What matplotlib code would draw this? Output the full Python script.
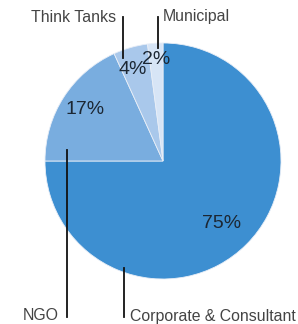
import matplotlib.pyplot as plt

# data (shares follow the wedge angles, labels as printed)
categories = ['Corporate & Consultant', 'NGO', 'Think Tanks', 'Municipal']
shares = [75, 18.2, 4.7, 2.1]
pct_labels = ['75%', '17%', '4%', '2%']
colors = ['#3d8fd1', '#79addf', '#a9c8eb', '#d7e5f6']

plt.rcParams['font.family'] = ['Liberation Sans', 'DejaVu Sans']

W, H = 298, 324
fig = plt.figure(figsize=(W / 100, H / 100), dpi=100)
ax = fig.add_axes([0, 0, 1, 1])

cx, cy, r = 163, H - 161, 118

wedges, _, autotexts = ax.pie(
    shares, colors=colors, startangle=90, counterclock=False,
    center=(cx, cy), radius=r, autopct='%1.0f%%', pctdistance=0.8,
    wedgeprops=dict(edgecolor='#e8eef7', linewidth=0.6), frame=True)
ax.set_xlim(0, W)
ax.set_ylim(0, H)
ax.set_aspect('equal')
ax.axis('off')

# percent label positions (pixels from top-left) as in the picture
pct_pos = [(222, 223), (85, 110), (133, 70), (156, 60)]
for t, lab, (px, py) in zip(autotexts, pct_labels, pct_pos):
    t.set_text(lab)
    t.set_position((px, H - py))
    t.set_fontsize(14)
    t.set_color('#1c2733')
    t.set_ha('center')
    t.set_va('center')

# leader lines and category names
leaders = {
    'Think Tanks': ((123, 17), (123, 58), (116, 17), 'right'),
    'Municipal': ((158, 17), (158, 48), (163, 17), 'left'),
    'NGO': ((67, 150), (67, 317), (59, 316), 'right'),
    'Corporate & Consultant': ((124, 268), (124, 317), (130, 316), 'left'),
}
for name in categories:
    (x0, y0), (x1, y1), (tx, ty), ha = leaders[name]
    ax.plot([x0, x1], [H - y0, H - y1], color='#111111', lw=1.3)
    ax.text(tx, H - ty, name, ha=ha, va='center', fontsize=11.4, color='#444444')

fig.savefig('out.png', dpi=100)
